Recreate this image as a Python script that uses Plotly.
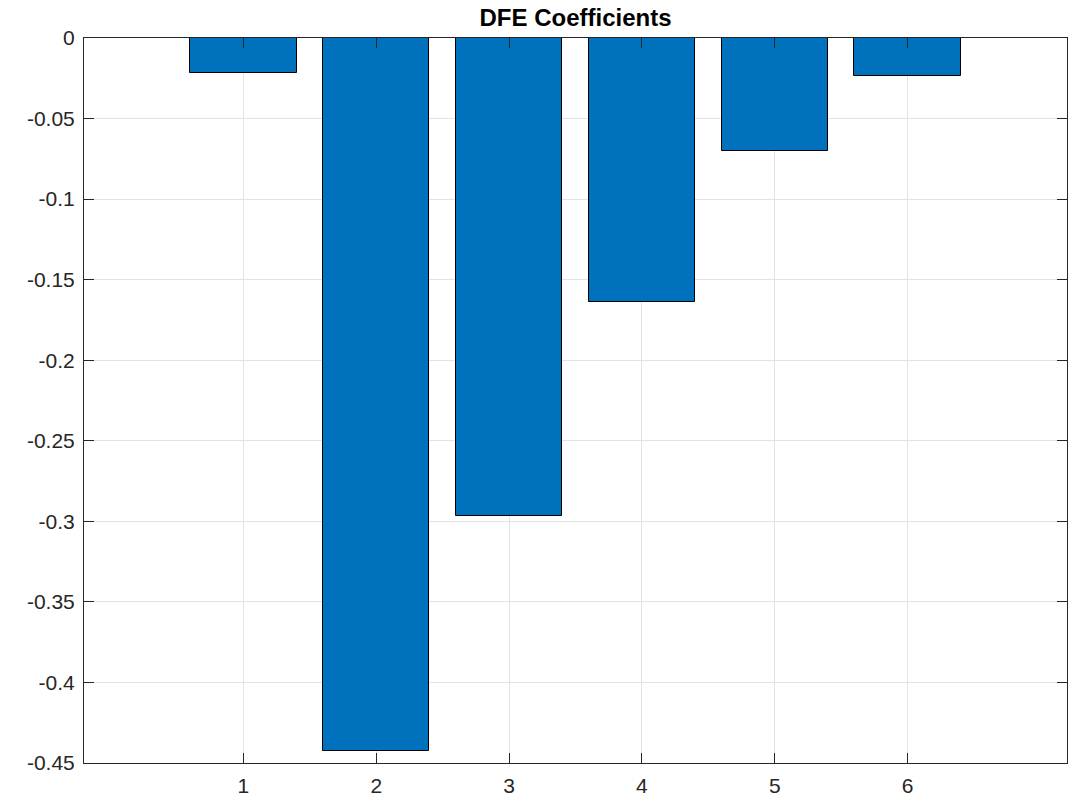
import plotly.graph_objects as go

# DFE tap indices and their coefficient values
taps = [1, 2, 3, 4, 5, 6]
coefficients = [-0.0217, -0.4424, -0.2966, -0.1639, -0.0703, -0.0234]

# y-axis tick positions and labels
y_ticks = [0, -0.05, -0.1, -0.15, -0.2, -0.25, -0.3, -0.35, -0.4, -0.45]
y_tick_labels = ["0", "-0.05", "-0.1", "-0.15", "-0.2", "-0.25", "-0.3", "-0.35", "-0.4", "-0.45"]

AX_COLOR = "#262626"
GRID_COLOR = "#e3e3e3"
FONT = "Liberation Sans, Arial, Helvetica, sans-serif"

fig = go.Figure(
    go.Bar(
        x=taps,
        y=coefficients,
        width=0.8,
        marker=dict(color="#0072BD", line=dict(color="black", width=1)),
    )
)

common_axis = dict(
    showline=True,
    linecolor=AX_COLOR,
    linewidth=1,
    mirror="ticks",
    ticks="inside",
    ticklen=10,
    tickwidth=1,
    tickcolor=AX_COLOR,
    showgrid=True,
    gridcolor=GRID_COLOR,
    gridwidth=1,
    zeroline=False,
    tickfont=dict(family=FONT, size=21, color=AX_COLOR),
    layer="above traces",
    ticklabelstandoff=4,
    automargin=False,
)

fig.update_xaxes(
    range=[-0.2, 7.2],
    tickmode="array",
    tickvals=taps,
    ticktext=[str(t) for t in taps],
    **common_axis,
)
fig.update_yaxes(
    range=[-0.45, 0],
    tickmode="array",
    tickvals=y_ticks,
    ticktext=y_tick_labels,
    **common_axis,
)

fig.update_layout(
    width=1071,
    height=796,
    margin=dict(l=84, r=4, t=38, b=33, pad=0, autoexpand=False),
    paper_bgcolor="white",
    plot_bgcolor="white",
    showlegend=False,
    bargap=0,
    title=dict(
        text="<b>DFE Coefficients</b>",
        font=dict(family=FONT, size=24, color="black"),
        x=(84 + 1067) / 2 / 1071,
        xanchor="center",
        xref="container",
        y=1 - 18 / 796,
        yref="container",
        yanchor="middle",
    ),
)

fig.write_html("out.html")
